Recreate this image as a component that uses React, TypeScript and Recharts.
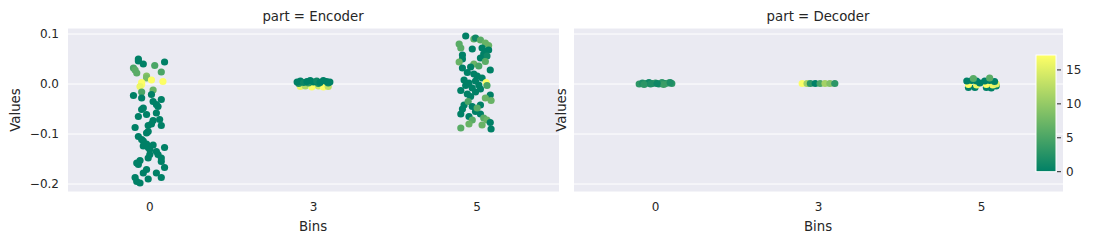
import { ScatterChart, Scatter, XAxis, YAxis, CartesianGrid } from "recharts";

// each point: [jitter (category units), value, shade]
type Pt = [number, number, number];

const bins = ["0", "3", "5"];
const yTicks = [-0.2, -0.1, 0, 0.1];
const cbarTicks = [0, 5, 10, 15];
const shadeMax = 17.2;

const encoder0: Pt[] = [
  [-0.07, 0.05, 0], [-0.07, 0.046, 0], [-0.04, 0.04, 0], [0.03, 0.037, 5], [0.09, 0.044, 0],
  [-0.1, 0.032, 5], [-0.09, 0.028, 6], [-0.08, 0.022, 6], [0.07, 0.024, 5], [-0.02, 0.016, 9],
  [-0.02, 0.012, 8], [-0.05, 0.003, 17], [-0.05, -0.001, 17], [-0.06, -0.005, 16], [0.01, 0.008, 17],
  [0.08, 0.005, 17], [0.02, -0.012, 7], [-0.05, -0.016, 5], [-0.1, -0.023, 0], [-0.05, -0.028, 0],
  [0.01, -0.021, 0], [0.02, -0.035, 0], [0.04, -0.041, 0], [0.07, -0.031, 0], [0.05, -0.045, 0],
  [-0.05, -0.051, 0], [-0.04, -0.048, 0], [-0.07, -0.065, 0], [-0.02, -0.061, 0], [0.04, -0.058, 0],
  [0.06, -0.071, 0], [0.02, -0.073, 0], [0.01, -0.08, 0], [-0.01, -0.083, 0], [0.07, -0.083, 0],
  [-0.09, -0.087, 0], [-0.01, -0.095, 0], [-0.02, -0.098, 0], [-0.07, -0.105, 0], [-0.05, -0.111, 0],
  [-0.04, -0.114, 0], [-0.02, -0.12, 0], [-0.01, -0.127, 0], [0.0, -0.131, 0], [0.0, -0.141, 0],
  [-0.01, -0.148, 0], [0.04, -0.135, 0], [0.05, -0.141, 0], [0.09, -0.127, 0], [0.07, -0.148, 0],
  [-0.06, -0.153, 0], [-0.07, -0.161, 0], [-0.02, -0.171, 0], [-0.04, -0.178, 0], [0.04, -0.178, 0],
  [0.09, -0.167, 0], [0.07, -0.187, 0], [-0.09, -0.187, 0], [-0.08, -0.195, 0], [-0.06, -0.198, 0],
  [-0.01, -0.19, 0], [-0.04, -0.124, 0], [0.07, -0.155, 0], [-0.08, -0.158, 0], [0.02, -0.122, 0],
];

const encoder3: Pt[] = [
  [-0.08, -0.005, 16], [-0.05, -0.004, 12], [-0.01, -0.006, 17], [0.03, -0.004, 14], [0.06, -0.006, 17],
  [0.09, -0.005, 13], [-0.09, 0.001, 2], [-0.03, 0.002, 3], [0.03, 0.001, 2], [0.09, 0.002, 1],
  [-0.1, 0.004, 0], [-0.08, 0.006, 0], [-0.06, 0.003, 1], [-0.04, 0.005, 0], [-0.02, 0.007, 0],
  [0.0, 0.004, 0], [0.02, 0.006, 1], [0.04, 0.003, 0], [0.06, 0.007, 0], [0.08, 0.005, 0],
  [0.1, 0.004, 0],
];

const encoder5: Pt[] = [
  [-0.07, 0.096, 0], [-0.02, 0.09, 6], [-0.01, 0.092, 1], [0.02, 0.088, 6], [0.05, 0.082, 7],
  [0.07, 0.077, 7], [-0.11, 0.08, 6], [-0.1, 0.072, 6], [0.03, 0.072, 0], [0.05, 0.065, 0],
  [0.07, 0.068, 0], [0.04, 0.06, 0], [0.06, 0.056, 1], [-0.09, 0.058, 0], [-0.09, 0.05, 0],
  [-0.11, 0.044, 7], [0.02, 0.052, 0], [0.05, 0.045, 6], [-0.02, 0.04, 7], [-0.09, 0.032, 0],
  [0.01, 0.036, 5], [-0.04, 0.034, 0], [0.08, 0.028, 0], [-0.06, 0.023, 0], [-0.02, 0.02, 0],
  [0.0, 0.016, 0], [0.03, 0.012, 0], [-0.08, 0.008, 0], [-0.05, 0.002, 0], [-0.01, 0.006, 0],
  [0.055, 0.003, 17], [-0.07, -0.003, 0], [-0.03, -0.008, 0], [0.01, -0.002, 0], [-0.1, -0.013, 0],
  [-0.06, -0.02, 0], [-0.01, -0.016, 0], [0.02, -0.01, 0], [0.08, -0.022, 0], [0.05, -0.028, 7],
  [0.085, -0.033, 7], [-0.04, -0.025, 0], [-0.08, -0.042, 0], [-0.055, -0.035, 5], [-0.03, -0.045, 0],
  [0.02, -0.042, 0], [-0.09, -0.05, 0], [-0.1, -0.06, 0], [-0.01, -0.055, 0], [0.02, -0.06, 0],
  [-0.05, -0.065, 0], [-0.03, -0.072, 6], [0.04, -0.068, 6], [0.06, -0.072, 7], [0.08, -0.077, 0],
  [-0.05, -0.08, 7], [0.03, -0.082, 7], [-0.1, -0.088, 6], [0.085, -0.09, 0], [0.0, -0.048, 6],
  [0.06, -0.003, 5], [-0.03, 0.07, 0],
];

const decoder0: Pt[] = [
  [-0.1, 0.0, 3], [-0.08, 0.002, 2], [-0.06, 0.001, 3], [-0.04, 0.003, 1], [-0.02, 0.001, 2],
  [0.0, 0.002, 3], [0.02, 0.0, 2], [0.04, 0.003, 3], [0.06, 0.001, 2], [0.08, 0.002, 4],
  [0.1, 0.001, 3], [-0.07, -0.001, 3], [0.05, -0.001, 4], [-0.03, 0.0, 2], [0.01, 0.001, 1],
  [0.09, 0.003, 2],
];

const decoder3: Pt[] = [
  [-0.1, 0.001, 17], [-0.07, 0.001, 11], [-0.05, 0.001, 3], [-0.02, 0.001, 0], [0.01, 0.001, 5],
  [0.04, 0.001, 11], [0.07, 0.001, 9], [0.1, 0.001, 3],
];

const decoder5: Pt[] = [
  [-0.08, -0.007, 0], [-0.04, -0.007, 0], [0.03, -0.007, 0], [0.06, -0.008, 0], [0.09, -0.004, 0],
  [-0.08, -0.001, 17], [-0.03, -0.002, 16], [0.03, -0.001, 17], [0.07, -0.002, 16], [0.09, 0.0, 15],
  [-0.09, 0.006, 0], [-0.06, 0.007, 0], [-0.03, 0.006, 0], [-0.01, 0.002, 0], [0.02, 0.006, 0],
  [0.05, 0.007, 0], [0.08, 0.005, 0], [-0.05, 0.011, 6], [0.05, 0.012, 6],
];

const toRows = (groups: Pt[][]) =>
  groups.flatMap((pts, i) => pts.map(([j, v, c]) => ({ x: i + j, y: v, c })));

// matplotlib "summer" colormap
function summer(c: number) {
  const t = Math.max(0, Math.min(1, c / shadeMax));
  const r = Math.round(255 * t);
  const g = Math.round(255 * (0.5 + 0.5 * t));
  return `rgb(${r},${g},102)`;
}

const font = "DejaVu Sans";
const ink = "#262626";

function fmtY(v: number) {
  if (Math.abs(v) < 1e-9) return "0.0";
  return (v < 0 ? "\u2212" : "") + Math.abs(v).toFixed(1);
}

function Dot(props: any) {
  const { cx, cy, payload } = props;
  if (cx == null || cy == null) return null;
  return <circle cx={cx} cy={cy} r={3.6} fill={summer(payload.c)} />;
}

function Panel({ rows, left, width, showY }: { rows: any[]; left: number; width: number; showY: boolean }) {
  return (
    <div style={{ position: "absolute", left, top: 0 }}>
      <ScatterChart width={width} height={244} margin={{ top: 28, right: 0, bottom: 22, left: 0 }}>
        <CartesianGrid fill="#EAEAF2" fillOpacity={1} stroke="#ffffff" strokeWidth={1} vertical={false} />
        <XAxis
          type="number"
          dataKey="x"
          domain={[-0.5, 2.5]}
          ticks={[0, 1, 2]}
          tickFormatter={(v: number) => bins[v] ?? ""}
          height={30}
          axisLine={false}
          tickLine={false}
          tickSize={0}
          tickMargin={10}
          tick={{ fontSize: 12, fill: ink, fontFamily: font }}
          allowDataOverflow
        />
        <YAxis
          type="number"
          dataKey="y"
          domain={[-0.216, 0.112]}
          ticks={yTicks}
          tickFormatter={fmtY}
          width={68}
          hide={!showY}
          axisLine={false}
          tickLine={false}
          tickSize={0}
          tickMargin={9}
          tick={{ fontSize: 12, fill: ink, fontFamily: font }}
          allowDataOverflow
        />
        <Scatter data={rows} shape={Dot} isAnimationActive={false} />
      </ScatterChart>
    </div>
  );
}

export default function App() {
  const cbTop = 55;
  const cbBottom = 171.7;
  const cbY = (v: number) => cbBottom - (v / shadeMax) * (cbBottom - cbTop);
  return (
    <div style={{ position: "absolute", left: 0, top: 0, width: 1093, height: 244, background: "#fff" }}>
      <Panel rows={toRows([encoder0, encoder3, encoder5])} left={0} width={559} showY />
      <Panel rows={toRows([decoder0, decoder3, decoder5])} left={574} width={489} showY={false} />
      <svg width={1093} height={244} style={{ position: "absolute", left: 0, top: 0, pointerEvents: "none" }}>
        <defs>
          <linearGradient id="summerGrad" x1="0" y1="1" x2="0" y2="0">
            <stop offset="0%" stopColor={summer(0)} />
            <stop offset="100%" stopColor={summer(shadeMax)} />
          </linearGradient>
        </defs>
        <g fontFamily={font} fontSize={13.3} fill={ink}>
          <text x={313} y={21} textAnchor="middle">part = Encoder</text>
          <text x={818} y={21} textAnchor="middle">part = Decoder</text>
          <text x={313} y={231} textAnchor="middle">Bins</text>
          <text x={818} y={231} textAnchor="middle">Bins</text>
          <text transform="translate(20,110) rotate(-90)" textAnchor="middle">Values</text>
          <text transform="translate(566,110) rotate(-90)" textAnchor="middle">Values</text>
        </g>
        <rect x={1036} y={cbTop} width={20} height={cbBottom - cbTop} fill="url(#summerGrad)" stroke="#fff" strokeWidth={1} />
        {cbarTicks.map((t) => (
          <g key={t}>
            <line x1={1057} x2={1061} y1={cbY(t)} y2={cbY(t)} stroke={ink} strokeWidth={1} />
            <text x={1066} y={cbY(t)} dy="0.35em" fontFamily={font} fontSize={12} fill={ink}>
              {t}
            </text>
          </g>
        ))}
      </svg>
    </div>
  );
}
